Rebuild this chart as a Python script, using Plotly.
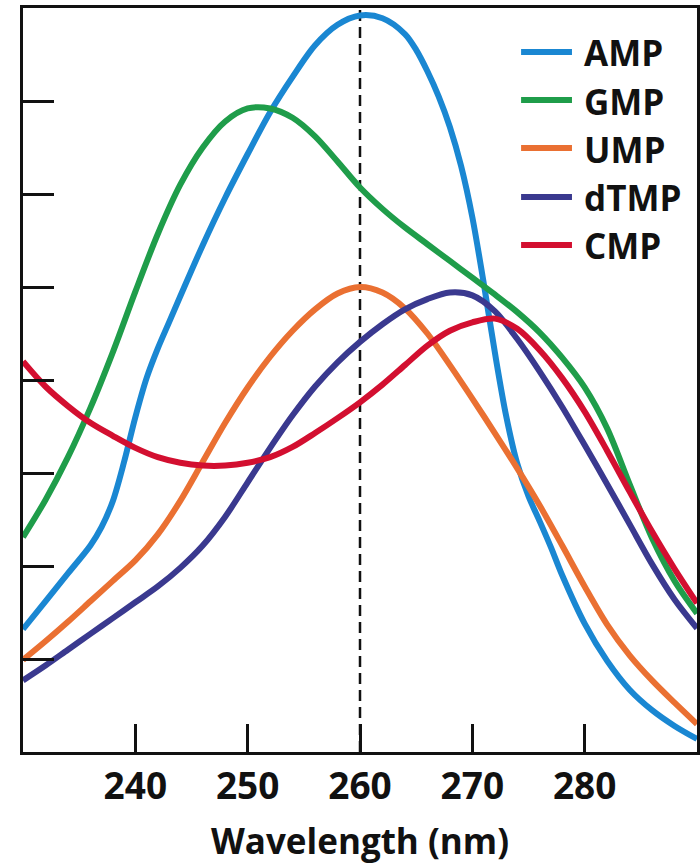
import plotly.graph_objects as go

# ---- data ----
wl = [230, 232, 234, 236, 238, 240, 242, 244, 246, 248, 250, 252, 254, 256, 258,
      260, 262, 264, 266, 268, 270, 272, 274, 276, 278, 280, 282, 284, 286, 288, 290]

amp_x = [230, 232, 234, 236, 237, 238, 239, 240, 241, 242, 243, 244, 246, 248, 250, 252, 254, 256,
         258, 260, 262, 264, 265, 266, 267, 268, 269, 270, 271, 272, 273, 274, 275, 276, 277, 278,
         280, 282, 284, 286, 288, 290]
amp_y = [1.32, 1.62, 1.92, 2.22, 2.42, 2.70, 3.12, 3.60, 4.02, 4.34, 4.62, 4.90, 5.45, 5.96, 6.43, 6.88, 7.26, 7.60,
         7.82, 7.92, 7.89, 7.72, 7.55, 7.32, 7.05, 6.72, 6.30, 5.75, 5.05, 4.30, 3.62, 3.10, 2.75, 2.48, 2.20, 1.90,
         1.38, 0.98, 0.67, 0.45, 0.28, 0.14]

gmp_y = [2.31, 2.71, 3.17, 3.70, 4.30, 4.95, 5.57, 6.10, 6.50, 6.78, 6.92, 6.92, 6.82, 6.62, 6.35,
         6.07, 5.84, 5.64, 5.46, 5.28, 5.10, 4.92, 4.73, 4.51, 4.24, 3.92, 3.48, 2.88, 2.30, 1.84, 1.49]

ump_y = [0.99, 1.19, 1.40, 1.62, 1.84, 2.06, 2.34, 2.70, 3.12, 3.54, 3.92, 4.25, 4.53, 4.76, 4.93,
         5.00, 4.94, 4.77, 4.50, 4.16, 3.80, 3.43, 3.05, 2.65, 2.22, 1.78, 1.37, 1.04, 0.77, 0.53, 0.30]

dtmp_y = [0.77, 0.93, 1.10, 1.27, 1.44, 1.61, 1.78, 1.98, 2.22, 2.53, 2.90, 3.27, 3.62, 3.93, 4.19,
          4.41, 4.60, 4.76, 4.87, 4.94, 4.91, 4.74, 4.44, 4.09, 3.71, 3.30, 2.88, 2.45, 2.02, 1.64, 1.33]

cmp_y = [4.20, 3.93, 3.72, 3.54, 3.40, 3.27, 3.17, 3.11, 3.08, 3.08, 3.11, 3.17, 3.28, 3.43, 3.59,
         3.76, 3.95, 4.16, 4.37, 4.53, 4.62, 4.66, 4.55, 4.32, 4.02, 3.66, 3.24, 2.80, 2.37, 1.97, 1.60]

series_names = ["AMP", "GMP", "UMP", "dTMP", "CMP"]
series_x = [amp_x, wl, wl, wl, wl]
series_y = [amp_y, gmp_y, ump_y, dtmp_y, cmp_y]
colors = ["#1a87d2", "#1f9d4a", "#ea7032", "#3a398f", "#d30f30"]

x_ticks = [240, 250, 260, 270, 280]
y_ticks = [1, 2, 3, 4, 5, 6, 7]
x_range = [230, 290]
y_range = [0, 8]
peak_wl = 260
x_title = "Wavelength (nm)"

FONT = "Open Sans"

fig = go.Figure()
for name, xs, ys, c in zip(series_names, series_x, series_y, colors):
    fig.add_trace(go.Scatter(x=xs, y=ys, mode="lines", name=name,
                             line=dict(color=c, width=6, shape="spline", smoothing=0.9),
                             showlegend=False, hoverinfo="skip"))

fig.add_vline(x=peak_wl, line=dict(color="#111111", width=2.5, dash="11px,6px"), layer="below")

# manual legend (long line samples as in the reference)
leg_x0, leg_x1, leg_tx = 0.739, 0.8145, 0.829
leg_y = [0.941, 0.8763, 0.8118, 0.746, 0.6815]
for name, c, yy in zip(series_names, colors, leg_y):
    fig.add_shape(type="line", xref="paper", yref="paper", x0=leg_x0, x1=leg_x1, y0=yy, y1=yy,
                  line=dict(color=c, width=6))
    fig.add_annotation(xref="paper", yref="paper", x=leg_tx, y=yy, text=name, showarrow=False,
                       xanchor="left", yanchor="middle", yshift=-1,
                       font=dict(family=FONT, size=35, color="#111111", weight=700))

fig.update_xaxes(range=x_range, tickvals=x_ticks, ticks="inside", ticklen=28, tickwidth=2.5,
                 tickcolor="#111111", showline=True, linecolor="#111111", linewidth=3, mirror=True,
                 showgrid=False, zeroline=False, automargin=False,
                 tickfont=dict(family=FONT, size=37, color="#111111", weight=700),
                 title=dict(text=x_title, standoff=30,
                            font=dict(family=FONT, size=35, color="#111111", weight=700)))
fig.update_yaxes(range=y_range, tickvals=y_ticks, ticks="inside", ticklen=31, tickwidth=2.5,
                 tickcolor="#111111", showticklabels=False, showline=True, linecolor="#111111",
                 linewidth=3, mirror=True, showgrid=False, zeroline=False, automargin=False)

fig.update_layout(width=700, height=864, margin=dict(l=23, r=3, t=8, b=112, autoexpand=False),
                  paper_bgcolor="white", plot_bgcolor="white", showlegend=False)

fig.write_html("out.html", config={"displayModeBar": False},
               post_script="document.body.style.margin='0';document.body.style.overflow='hidden';")
